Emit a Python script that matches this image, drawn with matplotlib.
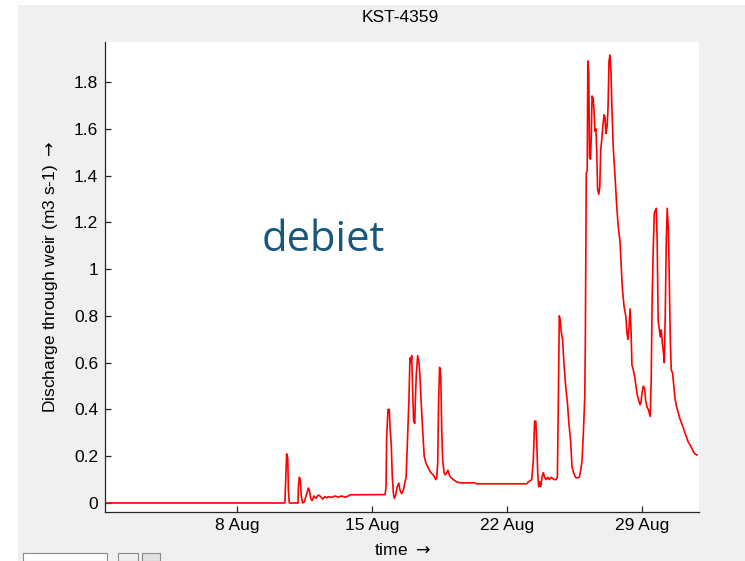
import matplotlib as mpl
mpl.use('Agg')
from matplotlib import pyplot as plt
import matplotlib.dates as mdates
import matplotlib.patches as patches
from matplotlib.ticker import FuncFormatter, MultipleLocator
import pandas as pd

# day of August (fractional) and discharge through the weir (m3/s)
day = [1.135, 10.47, 10.53, 10.56, 10.62, 10.65, 10.70, 11.15, 11.17, 11.22,
       11.27, 11.32, 11.39, 11.48, 11.57, 11.69, 11.74, 11.81, 11.88, 11.98,
       12.08, 12.20, 12.29, 12.43, 12.55, 12.64, 12.72, 12.90, 13.07, 13.24,
       13.42, 13.59, 13.76, 13.85, 15.67, 15.72, 15.75, 15.82, 15.89, 15.92,
       15.99, 16.04, 16.10, 16.15, 16.22, 16.30, 16.38, 16.44, 16.53, 16.62,
       16.69, 16.76, 16.82, 16.91, 16.96, 17.01, 17.05, 17.10, 17.15, 17.21,
       17.24, 17.29, 17.36, 17.43, 17.48, 17.53, 17.62, 17.70, 17.79, 17.91,
       18.04, 18.17, 18.30, 18.35, 18.40, 18.45, 18.50, 18.56, 18.61, 18.66,
       18.73, 18.79, 18.87, 18.93, 19.00, 19.07, 19.21, 19.39, 19.56, 20.34,
       20.42, 23.02, 23.10, 23.28, 23.36, 23.43, 23.49, 23.54, 23.59, 23.64,
       23.69, 23.75, 23.81, 23.88, 23.95, 24.02, 24.11, 24.19, 24.28, 24.36,
       24.45, 24.54, 24.61, 24.66, 24.71, 24.76, 24.81, 24.88, 24.95, 25.04,
       25.13, 25.21, 25.30, 25.37, 25.45, 25.55, 25.65, 25.75, 25.82, 25.89,
       25.96, 26.03, 26.06, 26.11, 26.16, 26.19, 26.24, 26.28, 26.33, 26.37,
       26.41, 26.47, 26.51, 26.56, 26.61, 26.65, 26.70, 26.76, 26.81, 26.86,
       26.91, 26.96, 27.03, 27.08, 27.13, 27.19, 27.24, 27.29, 27.34, 27.39,
       27.44, 27.51, 27.60, 27.69, 27.77, 27.86, 27.91, 27.98, 28.07, 28.16,
       28.22, 28.27, 28.33, 28.38, 28.43, 28.48, 28.55, 28.62, 28.69, 28.76,
       28.83, 28.90, 28.95, 29.00, 29.07, 29.14, 29.19, 29.26, 29.33, 29.38,
       29.43, 29.48, 29.53, 29.59, 29.64, 29.69, 29.74, 29.79, 29.84, 29.89,
       29.95, 30.00, 30.06, 30.11, 30.16, 30.21, 30.26, 30.31, 30.37, 30.42,
       30.47, 30.52, 30.59, 30.65, 30.71, 30.80, 30.89, 30.97, 31.06, 31.15,
       31.23, 31.32, 31.40, 31.49, 31.58, 31.66, 31.75, 31.86]
flow = [0.0, 0.0, 0.14, 0.21, 0.19, 0.055, 0.0, 0.0, 0.064, 0.11,
        0.10, 0.03, 0.0, 0.005, 0.03, 0.064, 0.055, 0.02, 0.01, 0.03,
        0.02, 0.034, 0.03, 0.017, 0.027, 0.022, 0.027, 0.024, 0.03, 0.025,
        0.03, 0.025, 0.03, 0.035, 0.036, 0.07, 0.28, 0.40, 0.40, 0.33,
        0.25, 0.12, 0.04, 0.02, 0.035, 0.07, 0.085, 0.056, 0.04, 0.056,
        0.085, 0.11, 0.24, 0.45, 0.62, 0.60, 0.63, 0.48, 0.35, 0.34,
        0.44, 0.55, 0.63, 0.60, 0.54, 0.45, 0.31, 0.20, 0.17, 0.15,
        0.13, 0.12, 0.10, 0.11, 0.17, 0.45, 0.58, 0.54, 0.31, 0.18,
        0.13, 0.12, 0.13, 0.14, 0.12, 0.11, 0.10, 0.09, 0.086, 0.086,
        0.082, 0.082, 0.09, 0.10, 0.18, 0.35, 0.35, 0.26, 0.13, 0.07,
        0.09, 0.07, 0.11, 0.13, 0.11, 0.10, 0.11, 0.10, 0.11, 0.105,
        0.10, 0.10, 0.11, 0.43, 0.80, 0.78, 0.73, 0.70, 0.60, 0.50,
        0.43, 0.34, 0.26, 0.155, 0.13, 0.11, 0.107, 0.11, 0.14, 0.18,
        0.30, 0.45, 0.67, 1.41, 1.42, 1.89, 1.84, 1.48, 1.47, 1.57,
        1.74, 1.73, 1.68, 1.59, 1.60, 1.51, 1.34, 1.32, 1.35, 1.51,
        1.55, 1.60, 1.66, 1.65, 1.58, 1.61, 1.69, 1.89, 1.915, 1.85,
        1.69, 1.52, 1.40, 1.27, 1.18, 1.12, 1.04, 0.92, 0.84, 0.80,
        0.73, 0.70, 0.75, 0.83, 0.75, 0.59, 0.57, 0.54, 0.50, 0.46,
        0.44, 0.42, 0.43, 0.47, 0.50, 0.49, 0.44, 0.41, 0.40, 0.385,
        0.37, 0.53, 0.88, 1.10, 1.24, 1.25, 1.26, 1.12, 0.78, 0.75,
        0.71, 0.74, 0.68, 0.65, 0.60, 0.81, 1.11, 1.26, 1.17, 0.95,
        0.70, 0.57, 0.555, 0.50, 0.45, 0.41, 0.385, 0.36, 0.34, 0.32,
        0.30, 0.28, 0.26, 0.25, 0.235, 0.22, 0.21, 0.205]

title = 'KST-4359'
xlabel = r'time $\rightarrow$'
ylabel = r'Discharge through weir (m3 s-1) $\rightarrow$'
note = 'debiet'
tick_days = [8, 15, 22, 29]

base = pd.Timestamp('2013-07-31')
t = base + pd.to_timedelta(day, unit='D')

plt.rcParams['font.family'] = ['Liberation Sans', 'DejaVu Sans']
W, H = 745, 561
fs = 12.5

fig = plt.figure(figsize=(W / 100, H / 100), dpi=100)
fig.patch.set_facecolor('white')
# grey matlab figure window
fig.patches.append(patches.Rectangle((18 / W, 0), 1 - 18 / W, 1 - 5 / H,
                                     transform=fig.transFigure, facecolor='#f0f0f0',
                                     edgecolor='none', zorder=-10))
# bits of ui controls cut off at the bottom
for x0, x1, fc in [(23, 107, 'white'), (118, 138, '#f0f0f0'), (142, 160, '#e0e0e0')]:
    fig.patches.append(patches.Rectangle((x0 / W, 0), (x1 - x0) / W, 8 / H,
                                         transform=fig.transFigure, facecolor=fc,
                                         edgecolor='#8a8a8a', lw=0.8, zorder=-5))

ax = fig.add_axes([105 / W, 1 - 512 / H, 594 / W, 470 / H])
ax.set_facecolor('white')
ax.plot(t, flow, color='red', lw=1.2)

ax.set_xlim(base + pd.Timedelta(days=1.135), base + pd.Timedelta(days=31.96))
ax.set_ylim(-0.0385, 1.971)
ax.xaxis.set_major_locator(mdates.DayLocator(bymonthday=tick_days))
ax.xaxis.set_major_formatter(mdates.DateFormatter('%-d %b'))
ax.yaxis.set_major_locator(MultipleLocator(0.2))
ax.yaxis.set_major_formatter(FuncFormatter(lambda v, p: '%g' % round(v, 2)))

for s in ['top', 'right']:
    ax.spines[s].set_visible(False)
for s in ['left', 'bottom']:
    ax.spines[s].set_color('#262626')
    ax.spines[s].set_linewidth(0.9)
ax.tick_params(direction='in', length=4, width=0.9, color='#262626',
               labelsize=fs, pad=5)
ax.tick_params(axis='x', pad=4)

ax.set_xlabel(xlabel, fontsize=fs)
ax.xaxis.set_label_coords(0.5, -0.064)
ax.set_ylabel(ylabel, fontsize=fs)
ax.yaxis.set_label_coords(-0.076, 0.5)

fig.text(400 / W, 1 - 18 / H, title, ha='center', va='center', fontsize=fs)
fig.text(323 / W, 1 - 251 / H, note, ha='center', va='baseline', fontsize=30,
         color='#17577e', family='Open Sans')

fig.savefig('out.png', dpi=100, facecolor=fig.get_facecolor())
